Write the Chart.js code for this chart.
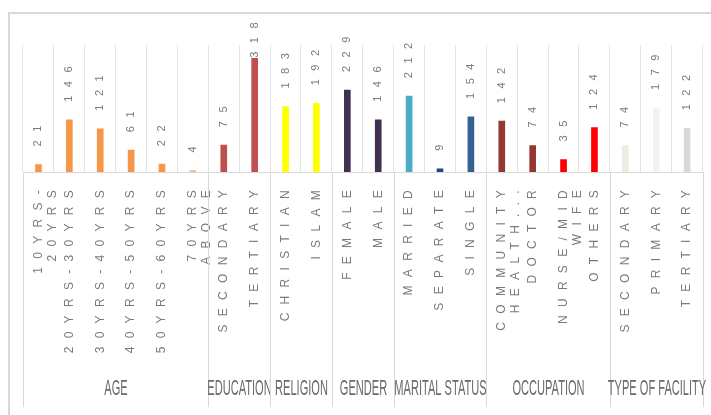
<!DOCTYPE html>
<html>
<head>
<meta charset="utf-8">
<script src="https://cdn.jsdelivr.net/npm/chart.js@4.4.1/dist/chart.umd.min.js"></script>
<style>
  html, body { margin: 0; padding: 0; background: #fff; }
  #wrap { position: relative; width: 711px; height: 415px; overflow: hidden; }
  #frame { position: absolute; left: 8px; top: 12px; width: 760px; height: 460px;
           border-left: 2px solid #d9d9d9; border-top: 2px solid #d9d9d9; }
  canvas { position: absolute; left: 0; top: 0; }
</style>
</head>
<body>
<div id="wrap">
  <div id="frame"></div>
  <canvas id="myChart" width="711" height="415"></canvas>
</div>
<script>
const categories = [
  ['10YRS-', '20YRS'], '20YRS-30YRS', '30YRS-40YRS', '40YRS-50YRS', '50YRS-60YRS', ['70YRS', 'ABOVE'],
  'SECONDARY', 'TERTIARY',
  'CHRISTIAN', 'ISLAM',
  'FEMALE', 'MALE',
  'MARRIED', 'SEPARATE', 'SINGLE',
  ['COMMUNITY', 'HEALTH...'], 'DOCTOR', ['NURSE/MID', 'WIFE'], 'OTHERS',
  'SECONDARY', 'PRIMARY', 'TERTIARY'
];
const values = [21, 146, 121, 61, 22, 4, 75, 318, 183, 192, 229, 146, 212, 9, 154, 142, 74, 35, 124, 74, 179, 122];
const groups = ['AGE', 'EDUCATION', 'RELIGION', 'GENDER', 'MARITAL STATUS', 'OCCUPATION', 'TYPE OF FACILITY'];
const groupSizes = [6, 2, 2, 2, 3, 4, 3];
const colors = [
  '#f79646', '#f79646', '#f79646', '#f79646', '#f79646', '#fab584',
  '#c0504d', '#c0504d',
  '#ffff00', '#ffff00',
  '#403151', '#403151',
  '#4bacc6', '#1f497d', '#366092',
  '#953735', '#953735', '#ff0000', '#ff0000',
  '#eeece1', '#f2f2f2', '#d9d9d9'
];

// spaced-out tick text, reset before bars are drawn
const spacing = {
  id: 'spacing',
  beforeDraw(chart) { chart.ctx.letterSpacing = '8.3px'; },
  beforeDatasetsDraw(chart) { chart.ctx.letterSpacing = '0px'; }
};

const valueLabels = {
  id: 'valueLabels',
  afterDatasetsDraw(chart) {
    const ctx = chart.ctx;
    const meta = chart.getDatasetMeta(0);
    ctx.save();
    ctx.font = '11px "Liberation Sans"';
    ctx.fillStyle = '#7a7a7a';
    ctx.letterSpacing = '8.5px';
    ctx.textAlign = 'left';
    ctx.textBaseline = 'middle';
    meta.data.forEach((bar, i) => {
      const txt = String(values[i]);
      const w = ctx.measureText(txt).width;
      let y = bar.y - 18;
      if (y - w < 14) y = 14 + w;
      ctx.save();
      ctx.translate(bar.x, y);
      ctx.rotate(-Math.PI / 2);
      ctx.fillText(txt, 0, 0);
      ctx.restore();
    });
    ctx.restore();
  }
};

const groupLabels = {
  id: 'groupLabels',
  afterDraw(chart) {
    const ctx = chart.ctx;
    const xs = chart.scales.x;
    const step = xs.getPixelForValue(1) - xs.getPixelForValue(0);
    const bottom = chart.chartArea.bottom;
    ctx.save();
    ctx.letterSpacing = '0px';
    ctx.strokeStyle = '#d9d9d9';
    ctx.lineWidth = 1;
    let start = 0;
    const edge = i => Math.round(xs.getPixelForValue(i) - step / 2) + 0.5;
    groupSizes.forEach((n, g) => {
      const l = edge(start), r = edge(start + n);
      ctx.beginPath();
      ctx.moveTo(l, bottom);
      ctx.lineTo(l, 407);
      ctx.stroke();
      if (g === groupSizes.length - 1) {
        ctx.beginPath();
        ctx.moveTo(r, bottom);
        ctx.lineTo(r, 407);
        ctx.stroke();
      }
      ctx.save();
      ctx.translate((l + r) / 2, 389);
      ctx.scale(0.82, 1.7);
      ctx.font = '13.5px "Liberation Sans"';
      ctx.fillStyle = '#6a6a6a';
      ctx.textAlign = 'center';
      ctx.textBaseline = 'middle';
      ctx.fillText(groups[g], 0, 0);
      ctx.restore();
      start += n;
    });
    ctx.restore();
  }
};

const ctx = document.getElementById('myChart');
new Chart(ctx, {
  type: 'bar',
  data: {
    labels: categories,
    datasets: [{
      data: values,
      backgroundColor: colors,
      barThickness: 6
    }]
  },
  options: {
    responsive: false,
    animation: false,
    layout: { padding: { left: 23, right: 4, top: 45, bottom: 0 } },
    plugins: {
      legend: { display: false },
      tooltip: { enabled: false }
    },
    scales: {
      y: { display: false, min: 0, max: 355 },
      x: {
        grid: { color: '#e3e3e3', drawTicks: false, offset: true },
        border: { color: '#d9d9d9' },
        ticks: {
          minRotation: 90,
          maxRotation: 90,
          autoSkip: false,
          padding: 10,
          color: '#7a7a7a',
          font: { family: 'Liberation Sans', size: 12, lineHeight: 1.15 }
        },
        afterFit(scale) { scale.height = 243; }
      }
    }
  },
  plugins: [spacing, valueLabels, groupLabels]
});
</script>
</body>
</html>
